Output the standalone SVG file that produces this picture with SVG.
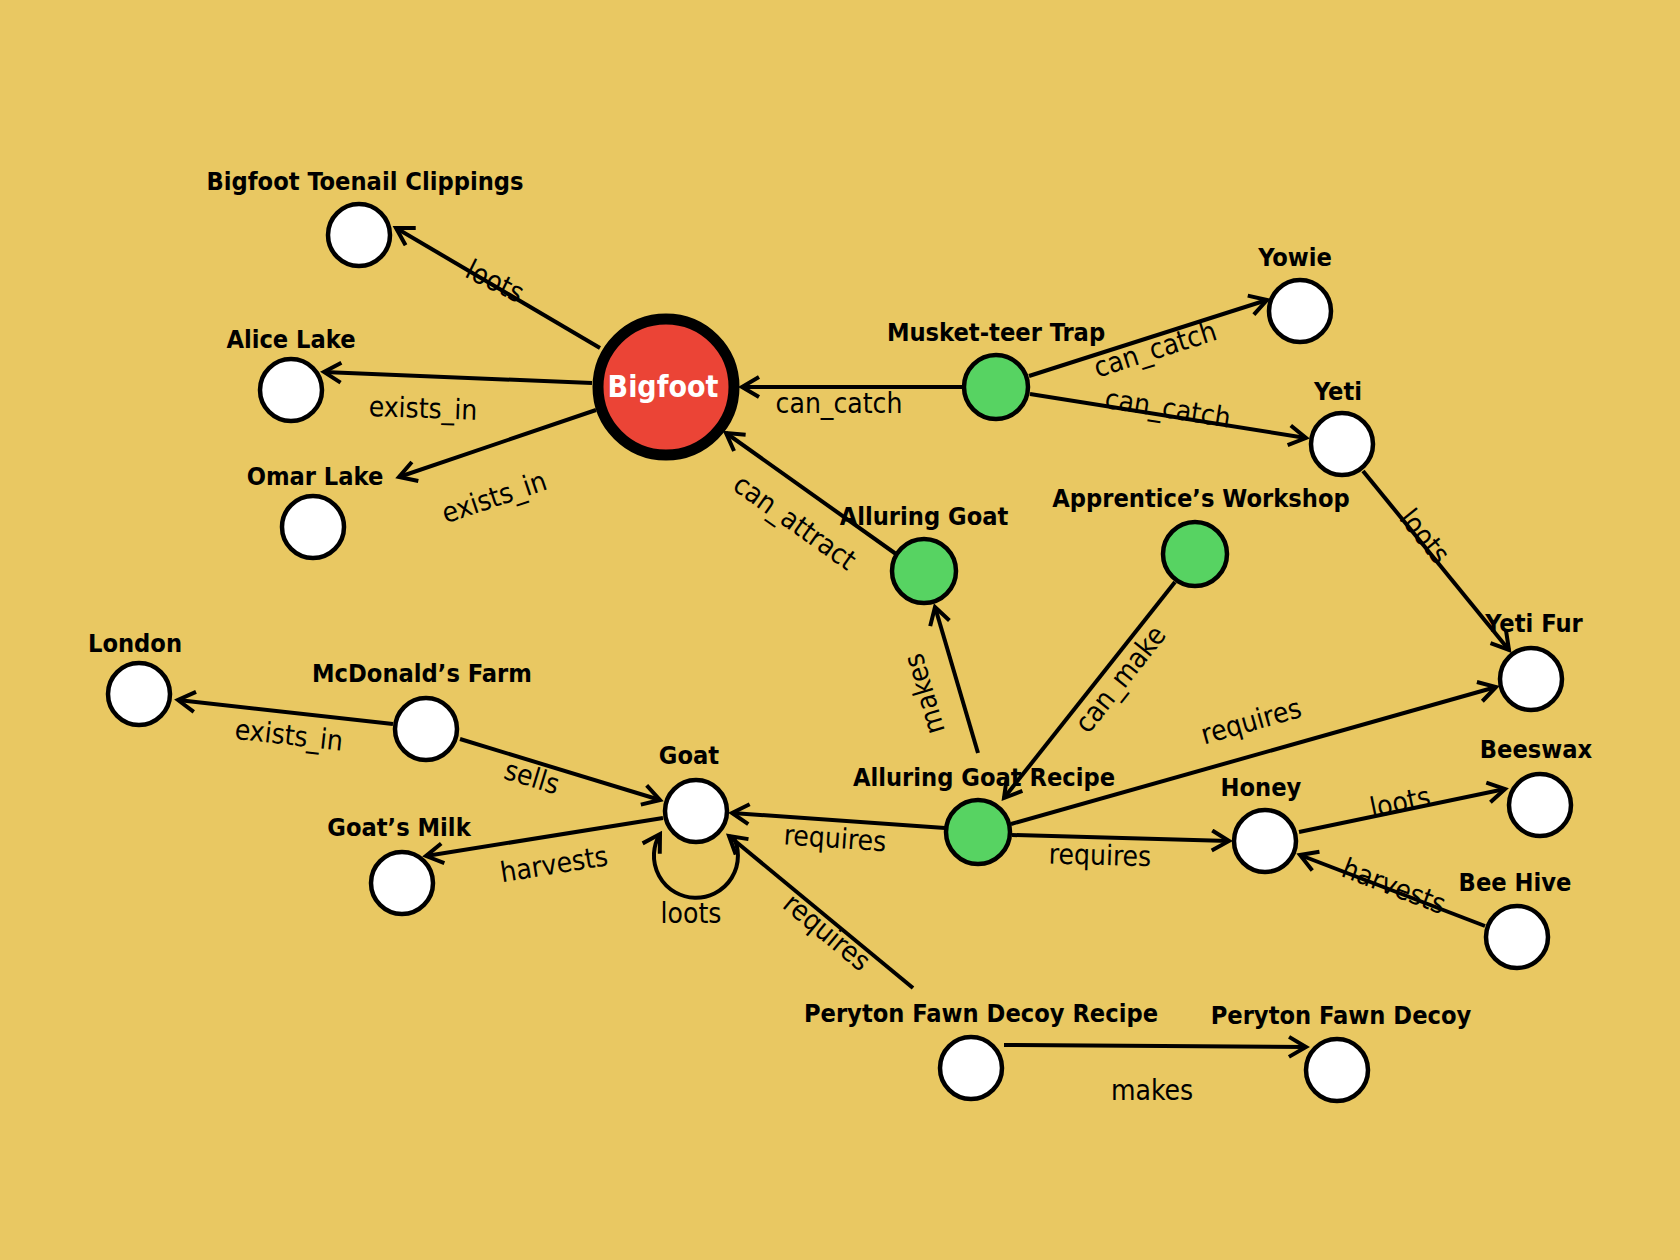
<svg xmlns="http://www.w3.org/2000/svg" width="1680" height="1260" viewBox="0 0 1680 1260">
<defs>
<style>
.n{fill:#fff;stroke:#000;stroke-width:4.5}
.g{fill:#57D362;stroke:#000;stroke-width:4.5}
.nl{font-family:"DejaVu Sans Condensed","DejaVu Sans",sans-serif;font-stretch:condensed;font-weight:bold;font-size:25.2px;fill:#000;text-anchor:middle}
.e{stroke:#000;stroke-width:4;fill:none;marker-end:url(#arr)}
.el{font-family:"DejaVu Sans Condensed","DejaVu Sans",sans-serif;font-stretch:condensed;font-size:28px;fill:#000;text-anchor:middle}
</style>
<marker id="arr" markerUnits="userSpaceOnUse" viewBox="0 0 24 24" markerWidth="24" markerHeight="24" refX="20" refY="12" orient="auto">
<path d="M3,2 L20,12 L3,22" fill="none" stroke="#000" stroke-width="4" stroke-linejoin="miter"/>
</marker>
</defs>
<rect width="1680" height="1260" fill="#E9C862"/>
<g id="nodes">
<g id="bigfoot"><circle cx="666" cy="387" r="68" fill="#EB4436" stroke="#000" stroke-width="11"/><text x="663" y="397" font-family="DejaVu Sans Condensed,DejaVu Sans,sans-serif" font-stretch="condensed" font-weight="bold" font-size="30" fill="#fff" text-anchor="middle">Bigfoot</text></g>
<g id="toenail"><circle class="n" cx="359" cy="235" r="31"/><text class="nl" x="365" y="190">Bigfoot Toenail Clippings</text></g>
<g id="alice"><circle class="n" cx="291" cy="390" r="31"/><text class="nl" x="291" y="348">Alice Lake</text></g>
<g id="omar"><circle class="n" cx="313" cy="527" r="31"/><text class="nl" x="315" y="485">Omar Lake</text></g>
<g id="musket"><circle class="g" cx="996" cy="387" r="32"/><text class="nl" x="996" y="341">Musket-teer Trap</text></g>
<g id="yowie"><circle class="n" cx="1300" cy="311" r="31"/><text class="nl" x="1295" y="266">Yowie</text></g>
<g id="yeti"><circle class="n" cx="1342" cy="444" r="31"/><text class="nl" x="1338" y="400">Yeti</text></g>
<g id="alluring-goat"><circle class="g" cx="924" cy="571" r="32"/><text class="nl" x="924" y="525">Alluring Goat</text></g>
<g id="workshop"><circle class="g" cx="1195" cy="554" r="32"/><text class="nl" x="1201" y="507">Apprentice’s Workshop</text></g>
<g id="yeti-fur"><circle class="n" cx="1531" cy="679" r="31"/><text class="nl" x="1534" y="632">Yeti Fur</text></g>
<g id="london"><circle class="n" cx="139" cy="694" r="31"/><text class="nl" x="135" y="652">London</text></g>
<g id="mcdonalds"><circle class="n" cx="426" cy="729" r="31"/><text class="nl" x="422" y="682">McDonald’s Farm</text></g>
<g id="goat"><circle class="n" cx="696" cy="811" r="31"/><text class="nl" x="689" y="764">Goat</text></g>
<g id="goats-milk"><circle class="n" cx="402" cy="883" r="31"/><text class="nl" x="399" y="836">Goat’s Milk</text></g>
<g id="recipe"><circle class="g" cx="978" cy="832" r="32"/><text class="nl" x="984" y="786">Alluring Goat Recipe</text></g>
<g id="honey"><circle class="n" cx="1265" cy="841" r="31"/><text class="nl" x="1261" y="796">Honey</text></g>
<g id="beeswax"><circle class="n" cx="1540" cy="805" r="31"/><text class="nl" x="1536" y="758">Beeswax</text></g>
<g id="bee-hive"><circle class="n" cx="1517" cy="937" r="31"/><text class="nl" x="1515" y="891">Bee Hive</text></g>
<g id="pfd-recipe"><circle class="n" cx="971" cy="1068" r="31"/><text class="nl" x="981" y="1022">Peryton Fawn Decoy Recipe</text></g>
<g id="pfd"><circle class="n" cx="1337" cy="1070" r="31"/><text class="nl" x="1341" y="1024">Peryton Fawn Decoy</text></g>
</g>
<g id="connectors">
<line class="e" x1="600" y1="348" x2="396" y2="228"/>
<line class="e" x1="592" y1="383" x2="324" y2="372"/>
<line class="e" x1="596" y1="410" x2="399" y2="477"/>
<line class="e" x1="962" y1="387" x2="742" y2="387"/>
<line class="e" x1="1029" y1="376" x2="1267" y2="300"/>
<line class="e" x1="1030" y1="394" x2="1306" y2="438"/>
<line class="e" x1="896" y1="554" x2="726" y2="433"/>
<line class="e" x1="1363" y1="471" x2="1509" y2="650"/>
<line class="e" x1="978" y1="753" x2="935" y2="607"/>
<line class="e" x1="1175" y1="582" x2="1004" y2="798"/>
<line class="e" x1="1011" y1="824" x2="1496" y2="687"/>
<line class="e" x1="945" y1="828" x2="732" y2="813"/>
<line class="e" x1="1012" y1="835" x2="1229" y2="841"/>
<line class="e" x1="1299" y1="832" x2="1505" y2="789"/>
<line class="e" x1="1485" y1="926" x2="1300" y2="855"/>
<line class="e" x1="393" y1="724" x2="178" y2="700"/>
<line class="e" x1="460" y1="739" x2="660" y2="800"/>
<line class="e" x1="663" y1="818" x2="426" y2="856"/>
<path class="e" d="M733,836 A42 42 0 1 1 660,834"/>
<line class="e" x1="913" y1="988" x2="729" y2="836"/>
<line class="e" x1="1004" y1="1045" x2="1306" y2="1047"/>
<g class="el">
<text transform="translate(495,281) rotate(26.3)" dy="0.35em">loots</text>
<text transform="translate(423,408) rotate(2)" dy="0.35em">exists_in</text>
<text transform="translate(494,497) rotate(-18.6)" dy="0.35em">exists_in</text>
<text transform="translate(839,403)" dy="0.35em">can_catch</text>
<text transform="translate(1155,349) rotate(-17.7)" dy="0.35em">can_catch</text>
<text transform="translate(1168,408) rotate(9.1)" dy="0.35em">can_catch</text>
<text transform="translate(795,522) rotate(35.4)" dy="0.35em">can_attract</text>
<text transform="translate(1425,536) rotate(50.8)" dy="0.35em">loots</text>
<text transform="translate(924,694) rotate(-106.4)" dy="0.35em">makes</text>
<text transform="translate(1120,679) rotate(-51.6)" dy="0.35em">can_make</text>
<text transform="translate(1251,721) rotate(-15.8)" dy="0.35em">requires</text>
<text transform="translate(835,838) rotate(4)" dy="0.35em">requires</text>
<text transform="translate(1100,855) rotate(1.6)" dy="0.35em">requires</text>
<text transform="translate(1400,802) rotate(-11.8)" dy="0.35em">loots</text>
<text transform="translate(1394,886) rotate(21)" dy="0.35em">harvests</text>
<text transform="translate(289,735) rotate(6.4)" dy="0.35em">exists_in</text>
<text transform="translate(532,777) rotate(17)" dy="0.35em">sells</text>
<text transform="translate(554,864) rotate(-9.1)" dy="0.35em">harvests</text>
<text transform="translate(691,913)" dy="0.35em">loots</text>
<text transform="translate(827,932) rotate(39.6)" dy="0.35em">requires</text>
<text transform="translate(1152,1090)" dy="0.35em">makes</text>
</g>
</g>
</svg>
